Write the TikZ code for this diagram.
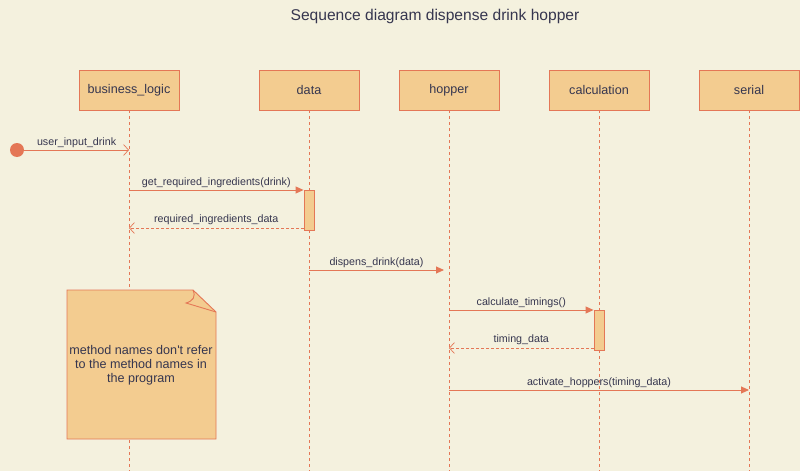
\documentclass[tikz,border=0pt]{standalone}
\usepackage{fontspec}
\setmainfont{Liberation Sans}
\usetikzlibrary{arrows.meta}
\definecolor{bgc}{HTML}{F4F1DE}
\definecolor{boxc}{HTML}{F3CC90}
\definecolor{linec}{HTML}{E47756}
\definecolor{txtc}{HTML}{36364F}
\tikzset{
  actor/.style={draw=linec, fill=boxc, line width=0.9pt, minimum width=100pt, minimum height=40pt, inner sep=0pt, text=txtc, font=\fontsize{12.6}{14}\selectfont},
  lifeline/.style={draw=linec, line width=0.6pt, dash pattern=on 3pt off 3pt},
  msg/.style={draw=linec, line width=0.9pt, -{Triangle[length=8pt,width=7pt]}},
  call/.style={draw=linec, line width=0.9pt, -{Straight Barb[length=5pt,width=11pt,line width=0.7pt]}},
  reply/.style={draw=linec, line width=0.9pt, dash pattern=on 3pt off 2pt, -{Straight Barb[length=5pt,width=11pt,line width=0.7pt]}},
  lbl/.style={text=txtc, font=\fontsize{10.7}{12}\selectfont, inner sep=1pt},
  act/.style={draw=linec, fill=boxc, line width=0.9pt, minimum width=10pt, minimum height=40pt, inner sep=0pt}
}
\begin{document}
\begin{tikzpicture}[x=1pt,y=-1pt]
\fill[bgc] (0,0) rectangle (800,471);
\useasboundingbox (0,0) rectangle (800,471);
\node[text=txtc, font=\fontsize{15.6}{18}\selectfont] (title) at (435,16) {Sequence diagram dispense drink hopper};
% actors
\node[actor] (bl) at (129,90) {business\_logic};
\node[actor] (da) at (309,90) {data};
\node[actor] (ho) at (449,90) {hopper};
\node[actor] (ca) at (599,90) {calculation};
\node[actor] (se) at (749,90) {serial};
\coordinate (blEnd) at (129,471);
\coordinate (daEnd) at (309,471);
\coordinate (hoEnd) at (449,471);
\coordinate (caEnd) at (599,471);
\coordinate (seEnd) at (749,471);
\draw[lifeline] (bl.south) -- (blEnd);
\draw[lifeline] (da.south) -- (daEnd);
\draw[lifeline] (ho.south) -- (hoEnd);
\draw[lifeline] (ca.south) -- (caEnd);
\draw[lifeline] (se.south) -- (seEnd);
% activations
\node[act, anchor=north] (act1) at (309,190) {};
\node[act, anchor=north] (act2) at (599,310) {};
% start
\node[circle, fill=linec, minimum size=14pt, inner sep=0pt] (start) at (17,150) {};
\coordinate (m1e) at (129,150);
\draw[call] (start.east) -- (m1e) node[lbl, midway, above=1pt] {user\_input\_drink};
% get_required_ingredients
\coordinate (m2s) at (129,190);
\draw[msg] (m2s) -- (act1.north west) node[lbl, midway, above=1pt] {get\_required\_ingredients(drink)};
\coordinate (m3e) at (129,228);
\draw[reply] (act1.west |- m3e) -- (m3e) node[lbl, midway, above=2pt] {required\_ingredients\_data};
% dispens_drink
\coordinate (m4s) at (309,270);
\coordinate (m4e) at (444,270);
\draw[msg] (m4s) -- (m4e) node[lbl, midway, above=1pt] {dispens\_drink(data)};
% calculate_timings
\coordinate (m5s) at (449,310);
\draw[msg] (m5s) -- (act2.north west) node[lbl, midway, above=1pt] {calculate\_timings()};
\coordinate (m6e) at (449,348);
\draw[reply] (act2.west |- m6e) -- (m6e) node[lbl, midway, above=2pt] {timing\_data};
% activate_hoppers
\coordinate (m7s) at (449,390);
\coordinate (m7e) at (749,390);
\draw[msg] (m7s) -- (m7e) node[lbl, midway, above=1pt] {activate\_hoppers(timing\_data)};
% note
\filldraw[draw=linec, fill=boxc, line width=0.9pt] (67,290) -- (193,290) -- (216,312) -- (216,439) -- (67,439) -- cycle;
\draw[draw=linec, line width=0.9pt] (193,290) .. controls (196,297) and (193,301) .. (186,303) -- (216,312);
\node[lbl, align=center, font=\fontsize{12.6}{14}\selectfont] (note) at (141,365) {method names don\textquotesingle t refer\\to the method names in\\the program};
\end{tikzpicture}
\end{document}
